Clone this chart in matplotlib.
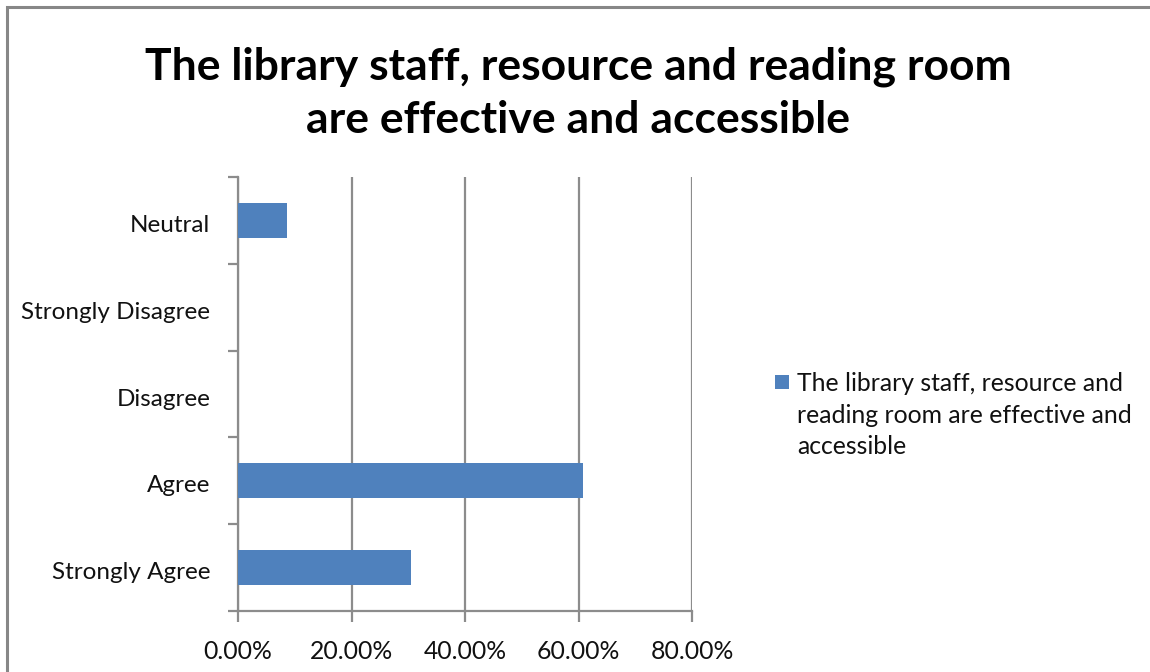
'''
 Library staff, resource and reading room - horizontal bar chart
'''

import matplotlib.pyplot as plt
from matplotlib.patches import Rectangle
from matplotlib.ticker import FuncFormatter, FixedLocator
from matplotlib.transforms import ScaledTranslation

categories = ['Strongly Agree', 'Agree', 'Disagree', 'Strongly Disagree', 'Neutral']
percentages = [30.43, 60.87, 0.0, 0.0, 8.70]
x_ticks = [0, 20, 40, 60, 80]
series_name = 'The library staff, resource and\nreading room are effective and\naccessible'
title = 'The library staff, resource and reading room\nare effective and accessible'

BAR_COLOR = '#4f81bd'
GRID_COLOR = '#8c8c8c'
FONT = 'Lato'
W, H = 1150, 672

fig = plt.figure(figsize=(W / 100, H / 100), dpi=100)
fig.patches.append(Rectangle((7 / W, -0.1), 1.2, 1 - 7 / H + 0.1,
                             transform=fig.transFigure, fill=False,
                             edgecolor='#878787', linewidth=2.2))

ax = fig.add_axes([238 / W, 1 - 611 / H, (692 - 238) / W, (611 - 177) / H])
positions = list(range(len(categories)))
ax.barh(positions, percentages, height=0.4, color=BAR_COLOR, zorder=3)

ax.set_xlim(0, 80)
ax.set_ylim(-0.5, len(categories) - 0.5)
ax.set_xticks(x_ticks)
ax.xaxis.set_major_formatter(FuncFormatter(lambda v, p: f'{v:.2f}%'))
ax.set_yticks(positions)
ax.set_yticklabels(categories)
ax.yaxis.set_minor_locator(FixedLocator([p - 0.5 for p in range(len(categories) + 1)]))

ax.tick_params(axis='y', which='major', length=0, pad=20, labelsize=17.5)
ax.tick_params(axis='y', which='minor', length=7, width=1.6, color=GRID_COLOR)
ax.tick_params(axis='x', length=8, width=1.6, color=GRID_COLOR, pad=13, labelsize=17.8)
for lbl in ax.get_xticklabels() + ax.get_yticklabels():
    lbl.set_fontfamily(FONT)
    lbl.set_color('#111111')
shift_down = ScaledTranslation(0, -3 / 100, fig.dpi_scale_trans)
for lbl in ax.get_yticklabels():
    lbl.set_va('center_baseline')
    lbl.set_transform(lbl.get_transform() + shift_down)

ax.grid(axis='x', color=GRID_COLOR, linewidth=1.6, zorder=0)
for side in ['top', 'right']:
    ax.spines[side].set_visible(False)
for side in ['left', 'bottom']:
    ax.spines[side].set_color(GRID_COLOR)
    ax.spines[side].set_linewidth(1.6)

fig.text(0.503, 1 - 93 / H, title, ha='center', va='center', fontsize=32,
         fontweight='bold', fontfamily=FONT, linespacing=1.38)

# legend: marker aligned with the first line of the label
fig.patches.append(Rectangle((775 / W, 1 - 389 / H), 14 / W, 14 / H,
                             transform=fig.transFigure, facecolor=BAR_COLOR,
                             edgecolor='none'))
fig.text(797 / W, 1 - 372 / H, series_name, ha='left', va='top', fontsize=17.8,
         fontfamily=FONT, color='#111111', linespacing=1.45)

fig.savefig('out.png', dpi=100)
